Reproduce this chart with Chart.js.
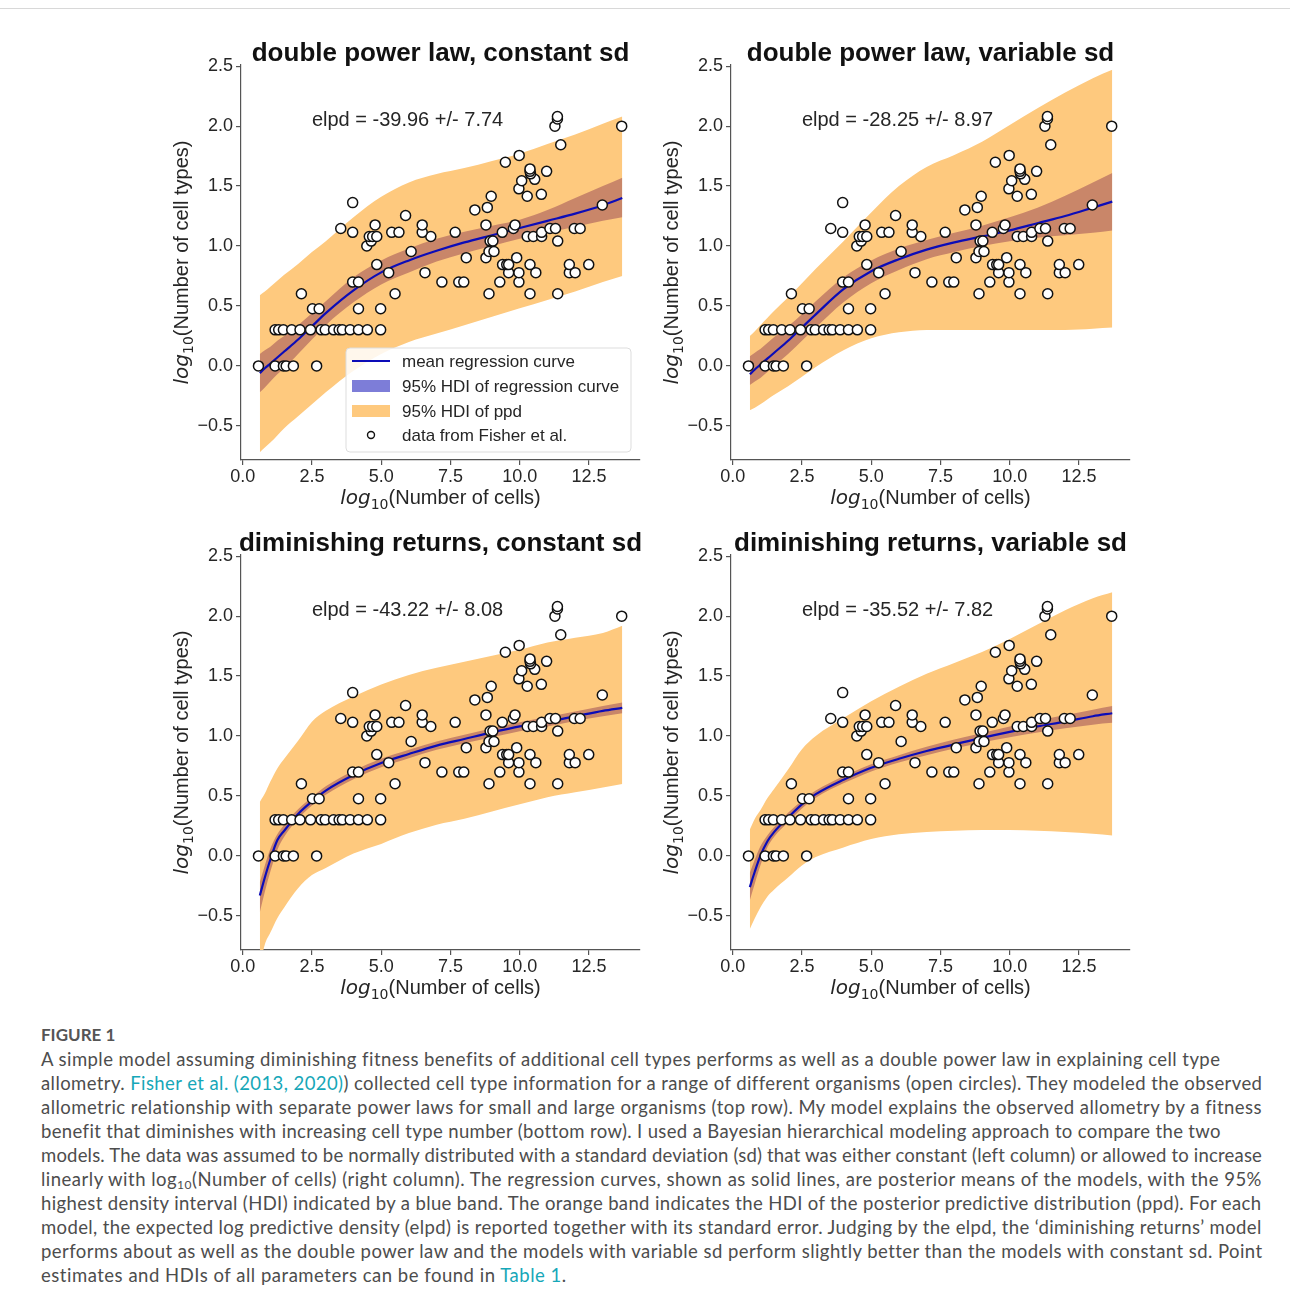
<!DOCTYPE html>
<html>
<head>
<meta charset="utf-8">
<script src="https://cdn.jsdelivr.net/npm/chart.js@4.4.1/dist/chart.umd.min.js"></script>
<style>
  body { margin: 0; background: #fff; width: 1290px; height: 1304px; position: relative; overflow: hidden; }
  #topline { position: absolute; left: 0; top: 8px; width: 1290px; height: 1px; background: #d8d8d8; }
  .panel { position: absolute; }
  #caption { position: absolute; left: 41px; top: 1023px; font-family: "Lato", "Open Sans", sans-serif; font-size: 18.5px; line-height: 24px; color: #4d4d4d; }
  #caption .head { font-weight: 700; color: #555; font-size: 17px; }
  #caption .cl { display: inline-block; white-space: nowrap; }
  #caption a { color: #16a7b8; text-decoration: none; }
  #caption sub { font-size: 12px; line-height: 0; vertical-align: -3px; }
</style>
</head>
<body>
<div id="topline"></div>
<canvas id="c0" class="panel" width="490" height="480" style="left:160px;top:30px"></canvas>
<canvas id="c1" class="panel" width="490" height="480" style="left:650px;top:30px"></canvas>
<canvas id="c2" class="panel" width="490" height="480" style="left:160px;top:520px"></canvas>
<canvas id="c3" class="panel" width="490" height="480" style="left:650px;top:520px"></canvas>

<div id="caption">
  <div class="head">FIGURE 1</div>
  <div><span class="cl" data-w="1179">A simple model assuming diminishing fitness benefits of additional cell types performs as well as a double power law in explaining cell type</span></div>
  <div><span class="cl" data-w="1221">allometry. <a>Fisher et al. (2013, 2020)</a>) collected cell type information for a range of different organisms (open circles). They modeled the observed</span></div>
  <div><span class="cl" data-w="1221">allometric relationship with separate power laws for small and large organisms (top row). My model explains the observed allometry by a fitness</span></div>
  <div><span class="cl" data-w="1179">benefit that diminishes with increasing cell type number (bottom row). I used a Bayesian hierarchical modeling approach to compare the two</span></div>
  <div><span class="cl" data-w="1221">models. The data was assumed to be normally distributed with a standard deviation (sd) that was either constant (left column) or allowed to increase</span></div>
  <div><span class="cl" data-w="1221">linearly with log<sub>10</sub>(Number of cells) (right column). The regression curves, shown as solid lines, are posterior means of the models, with the 95%</span></div>
  <div><span class="cl" data-w="1221">highest density interval (HDI) indicated by a blue band. The orange band indicates the HDI of the posterior predictive distribution (ppd). For each</span></div>
  <div><span class="cl" data-w="1221">model, the expected log predictive density (elpd) is reported together with its standard error. Judging by the elpd, the ‘diminishing returns’ model</span></div>
  <div><span class="cl" data-w="1221">performs about as well as the double power law and the models with variable sd perform slightly better than the models with constant sd. Point</span></div>
  <div><span class="cl" data-w="526">estimates and HDIs of all parameters can be found in <a>Table 1</a>.</span></div>
</div>

<script>
// log10(cells), log10(cell types) from Fisher et al., one row per cell-type level
const FISHER = [
  [0.57, 0], [1.17, 0], [1.47, 0], [1.57, 0], [1.83, 0], [2.67, 0],
  [1.17, 0.301], [1.3, 0.301], [1.47, 0.301], [1.77, 0.301], [2.07, 0.301], [2.45, 0.301], [2.83, 0.301],
  [2.98, 0.301], [3.28, 0.301], [3.48, 0.301], [3.6, 0.301], [3.88, 0.301], [4.18, 0.301], [4.5, 0.301], [4.98, 0.301],
  [2.52, 0.477], [2.76, 0.477], [4.18, 0.477], [4.98, 0.477],
  [2.12, 0.602], [5.5, 0.602], [8.89, 0.602], [10.37, 0.602], [11.37, 0.602],
  [3.97, 0.699], [4.18, 0.699], [7.19, 0.699], [7.8, 0.699], [7.98, 0.699], [9.28, 0.699], [9.97, 0.699],
  [5.27, 0.778], [6.58, 0.778], [9.6, 0.778], [9.97, 0.778], [10.58, 0.778], [11.79, 0.778], [12.0, 0.778],
  [4.84, 0.845], [9.38, 0.845], [9.53, 0.845], [9.6, 0.845], [10.37, 0.845], [11.79, 0.845], [12.49, 0.845],
  [8.07, 0.903], [8.78, 0.903], [9.89, 0.903],
  [6.08, 0.954], [8.89, 0.954], [9.07, 0.954],
  [4.48, 1.0],
  [4.64, 1.041], [8.93, 1.041], [9.03, 1.041], [11.37, 1.041],
  [4.57, 1.079], [4.69, 1.079], [4.84, 1.079], [6.79, 1.079], [10.27, 1.079], [10.49, 1.079], [10.79, 1.079],
  [3.97, 1.114], [5.38, 1.114], [5.64, 1.114], [6.48, 1.114], [7.67, 1.114], [9.37, 1.114], [10.79, 1.114],
  [3.54, 1.146], [9.77, 1.146], [11.09, 1.146], [11.29, 1.146], [11.97, 1.146], [12.18, 1.146],
  [4.78, 1.176], [6.48, 1.176], [8.78, 1.176], [9.83, 1.176],
  [5.88, 1.255], [8.38, 1.301], [8.83, 1.322], [12.98, 1.342], [3.97, 1.362],
  [8.97, 1.415], [10.27, 1.415], [10.78, 1.431], [9.97, 1.477], [10.07, 1.544], [10.54, 1.556],
  [10.39, 1.602], [10.37, 1.623], [10.97, 1.623], [10.37, 1.643], [9.48, 1.699], [9.98, 1.756],
  [11.48, 1.845], [11.27, 2.0], [13.68, 2.0], [11.36, 2.06], [11.36, 2.08]
];

// x positions at which the curves and bands were read
const X_GRID = [0.62, 0.8, 1.0, 1.25, 1.5, 2, 2.5, 3, 4, 5, 6, 7, 8, 9, 10, 11, 12, 13, 13.7];

const DPL_CONST_MEAN = [-0.06, -0.02, 0.02, 0.07, 0.12, 0.22, 0.33, 0.44, 0.63, 0.78, 0.88, 0.96, 1.03, 1.09, 1.15, 1.21, 1.27, 1.34, 1.40];
const DPL_CONST_HDI_HI = [0.10, 0.13, 0.16, 0.21, 0.25, 0.34, 0.44, 0.54, 0.74, 0.88, 0.98, 1.06, 1.12, 1.17, 1.22, 1.30, 1.40, 1.50, 1.57];
const DPL_CONST_HDI_LO = [-0.22, -0.18, -0.13, -0.07, -0.02, 0.10, 0.22, 0.34, 0.53, 0.68, 0.78, 0.87, 0.94, 1.00, 1.06, 1.11, 1.16, 1.21, 1.24];
const DPL_CONST_PPD_HI = [0.59, 0.62, 0.66, 0.71, 0.76, 0.85, 0.95, 1.04, 1.24, 1.41, 1.53, 1.60, 1.65, 1.71, 1.77, 1.85, 1.93, 2.02, 2.08];
const DPL_CONST_PPD_LO = [-0.72, -0.68, -0.64, -0.58, -0.52, -0.42, -0.32, -0.22, -0.04, 0.10, 0.20, 0.27, 0.34, 0.41, 0.48, 0.55, 0.62, 0.70, 0.75];

const DPL_VAR_MEAN = [-0.07, -0.03, 0.01, 0.06, 0.11, 0.21, 0.32, 0.43, 0.64, 0.79, 0.89, 0.97, 1.03, 1.08, 1.13, 1.19, 1.25, 1.32, 1.37];
const DPL_VAR_HDI_HI = [0.08, 0.11, 0.14, 0.19, 0.24, 0.33, 0.43, 0.54, 0.74, 0.88, 0.98, 1.05, 1.11, 1.17, 1.24, 1.32, 1.42, 1.53, 1.61];
const DPL_VAR_HDI_LO = [-0.16, -0.13, -0.10, -0.05, 0.00, 0.10, 0.21, 0.32, 0.53, 0.69, 0.80, 0.89, 0.95, 1.00, 1.04, 1.07, 1.09, 1.11, 1.13];
const DPL_VAR_PPD_HI = [0.25, 0.29, 0.34, 0.40, 0.46, 0.57, 0.69, 0.81, 1.04, 1.28, 1.50, 1.66, 1.76, 1.87, 2.01, 2.15, 2.28, 2.40, 2.47];
const DPL_VAR_PPD_LO = [-0.37, -0.35, -0.32, -0.28, -0.24, -0.17, -0.09, -0.01, 0.13, 0.23, 0.28, 0.30, 0.30, 0.30, 0.30, 0.30, 0.30, 0.31, 0.32];

const DR_CONST_MEAN = [-0.33, -0.18, -0.03, 0.13, 0.21, 0.35, 0.455, 0.545, 0.675, 0.775, 0.85, 0.92, 0.975, 1.03, 1.08, 1.12, 1.165, 1.21, 1.235];
const DR_CONST_HDI_HI = [-0.22, -0.08, 0.06, 0.18, 0.26, 0.39, 0.49, 0.58, 0.71, 0.81, 0.885, 0.955, 1.01, 1.065, 1.115, 1.16, 1.205, 1.25, 1.28];
const DR_CONST_HDI_LO = [-0.47, -0.30, -0.13, 0.05, 0.16, 0.31, 0.42, 0.51, 0.64, 0.74, 0.815, 0.885, 0.94, 0.99, 1.04, 1.08, 1.125, 1.165, 1.19];
const DR_CONST_PPD_HI = [0.45, 0.52, 0.62, 0.73, 0.81, 0.96, 1.12, 1.21, 1.33, 1.43, 1.51, 1.57, 1.62, 1.67, 1.72, 1.78, 1.82, 1.86, 1.92];
const DR_CONST_PPD_LO = [-0.92, -0.74, -0.64, -0.52, -0.43, -0.27, -0.16, -0.10, 0.02, 0.10, 0.19, 0.26, 0.31, 0.37, 0.43, 0.49, 0.53, 0.57, 0.60];

const DR_VAR_MEAN = [-0.26, -0.13, 0.0, 0.12, 0.20, 0.32, 0.43, 0.515, 0.635, 0.735, 0.81, 0.875, 0.93, 0.985, 1.035, 1.08, 1.12, 1.165, 1.19];
const DR_VAR_HDI_HI = [-0.14, -0.03, 0.08, 0.17, 0.24, 0.36, 0.46, 0.545, 0.665, 0.765, 0.84, 0.91, 0.97, 1.025, 1.08, 1.13, 1.175, 1.22, 1.25];
const DR_VAR_HDI_LO = [-0.37, -0.23, -0.08, 0.07, 0.16, 0.28, 0.395, 0.485, 0.605, 0.705, 0.78, 0.84, 0.895, 0.945, 0.99, 1.03, 1.065, 1.095, 1.11];
const DR_VAR_PPD_HI = [0.22, 0.31, 0.38, 0.48, 0.56, 0.72, 0.89, 1.00, 1.15, 1.29, 1.41, 1.52, 1.61, 1.70, 1.81, 1.93, 2.05, 2.15, 2.20];
const DR_VAR_PPD_LO = [-0.61, -0.52, -0.43, -0.34, -0.28, -0.18, -0.08, -0.01, 0.07, 0.14, 0.18, 0.20, 0.21, 0.215, 0.215, 0.21, 0.20, 0.185, 0.17];

const TITLES = ["double power law, constant sd", "double power law, variable sd",
                "diminishing returns, constant sd", "diminishing returns, variable sd"];
const ELPD = ["elpd = -39.96 +/- 7.74", "elpd = -28.25 +/- 8.97",
              "elpd = -43.22 +/- 8.08", "elpd = -35.52 +/- 7.82"];
const LEGEND_LABELS = ["mean regression curve", "95% HDI of regression curve", "95% HDI of ppd", "data from Fisher et al."];
const X_TICKS = [0, 2.5, 5, 7.5, 10, 12.5];
const Y_TICKS = [-0.5, 0, 0.5, 1, 1.5, 2, 2.5];

const PANELS = [
  [DPL_CONST_MEAN, DPL_CONST_HDI_HI, DPL_CONST_HDI_LO, DPL_CONST_PPD_HI, DPL_CONST_PPD_LO],
  [DPL_VAR_MEAN, DPL_VAR_HDI_HI, DPL_VAR_HDI_LO, DPL_VAR_PPD_HI, DPL_VAR_PPD_LO],
  [DR_CONST_MEAN, DR_CONST_HDI_HI, DR_CONST_HDI_LO, DR_CONST_PPD_HI, DR_CONST_PPD_LO],
  [DR_VAR_MEAN, DR_VAR_HDI_HI, DR_VAR_HDI_LO, DR_VAR_PPD_HI, DR_VAR_PPD_LO],
];

const SANS = '"Liberation Sans", Arial, sans-serif';
const ORANGE = "#fec97e";
const BROWN = "#c98669";
const LINE_BLUE = "#0c0cb8";
const PATCH_BLUE = "#7d7dd8";
const INK = "#262626";
const SPINE = "#555555";

Chart.defaults.font.family = SANS;
Chart.defaults.color = INK;

const onGrid = (arr) => X_GRID.map((x, i) => ({ x: x, y: arr[i] }));
const fmt = (v) => v.toFixed(1).replace("-", "\u2212");

// "log" oblique + subscript 10 + rest, centred at (cx, cy)
const drawLogLabel = (ctx, rest, cx, cy, angle) => {
  const fLog = 'oblique 20px "DejaVu Sans"';
  const fSub = '14px "DejaVu Sans"';
  const fRest = "20px " + SANS;
  ctx.save();
  ctx.translate(cx, cy);
  ctx.rotate(angle);
  ctx.font = fLog; const w1 = ctx.measureText("log").width;
  ctx.font = fSub; const w2 = ctx.measureText("10").width;
  ctx.font = fRest; const w3 = ctx.measureText(rest).width;
  let x = -(w1 + w2 + w3) / 2;
  ctx.textAlign = "left";
  ctx.textBaseline = "alphabetic";
  ctx.fillStyle = INK;
  ctx.font = fLog; ctx.fillText("log", x, 0); x += w1;
  ctx.font = fSub; ctx.fillText("10", x, 5); x += w2;
  ctx.font = fRest; ctx.fillText(rest, x, 0);
  ctx.restore();
};

const drawLegend = (ctx, a) => {
  const left = a.right - 294, top = a.bottom - 112, w = 285, h = 104;
  ctx.save();
  ctx.beginPath();
  ctx.roundRect(left, top, w, h, 4);
  ctx.fillStyle = "rgba(255,255,255,0.85)";
  ctx.fill();
  ctx.strokeStyle = "#dddddd";
  ctx.lineWidth = 1;
  ctx.stroke();
  const rows = [13, 38, 63, 87];
  ctx.font = "17px " + SANS;
  ctx.textBaseline = "middle";
  ctx.fillStyle = INK;
  LEGEND_LABELS.forEach((t, i) => ctx.fillText(t, left + 56, top + rows[i] + 1));
  ctx.strokeStyle = LINE_BLUE; ctx.lineWidth = 2;
  ctx.beginPath(); ctx.moveTo(left + 6, top + rows[0]); ctx.lineTo(left + 44, top + rows[0]); ctx.stroke();
  ctx.fillStyle = PATCH_BLUE; ctx.fillRect(left + 6, top + rows[1] - 6, 38, 12);
  ctx.fillStyle = ORANGE; ctx.fillRect(left + 6, top + rows[2] - 6, 38, 12);
  ctx.beginPath(); ctx.arc(left + 25, top + rows[3], 3.5, 0, Math.PI * 2);
  ctx.fillStyle = "#fff"; ctx.fill();
  ctx.strokeStyle = "#111"; ctx.lineWidth = 1.4; ctx.stroke();
  ctx.restore();
};

const overlay = {
  id: "overlay",
  afterDraw(chart, args, opts) {
    const { ctx, chartArea: a, scales } = chart;
    const cx = (a.left + a.right) / 2;
    ctx.save();
    ctx.fillStyle = "#111";
    ctx.font = "bold 26px " + SANS;
    ctx.textAlign = "center";
    ctx.textBaseline = "alphabetic";
    ctx.fillText(opts.title, cx, 31);
    ctx.fillStyle = INK;
    ctx.font = "20px " + SANS;
    ctx.textAlign = "left";
    ctx.fillText(opts.elpd, scales.x.getPixelForValue(2.5), scales.y.getPixelForValue(2.0));
    ctx.restore();
    drawLogLabel(ctx, "(Number of cells)", cx, 474, 0);
    drawLogLabel(ctx, "(Number of cell types)", 28, (a.top + a.bottom) / 2, -Math.PI / 2);
    if (opts.legend) drawLegend(ctx, a);
  },
};

const band = (arr, color, fill, order) => ({
  type: "line",
  data: onGrid(arr),
  borderWidth: 0,
  pointRadius: 0,
  backgroundColor: color,
  fill: fill,
  cubicInterpolationMode: "monotone",
  order: order,
});

PANELS.forEach((p, k) => {
  const [mean, hdiHi, hdiLo, ppdHi, ppdLo] = p;
  new Chart(document.getElementById("c" + k), {
    type: "line",
    data: {
      datasets: [
        {
          data: FISHER.map((d) => ({ x: d[0], y: d[1] })),
          showLine: false,
          pointRadius: 5,
          pointBorderWidth: 1.5,
          pointBackgroundColor: "#ffffff",
          pointBorderColor: "#111111",
          order: 0,
        },
        {
          data: onGrid(mean),
          borderColor: LINE_BLUE,
          borderWidth: 2.2,
          pointRadius: 0,
          fill: false,
          cubicInterpolationMode: "monotone",
          order: 1,
        },
        band(hdiHi, BROWN, "+1", 2),
        band(hdiLo, BROWN, false, 2),
        band(ppdHi, ORANGE, "+1", 3),
        band(ppdLo, ORANGE, false, 3),
      ],
    },
    options: {
      responsive: false,
      animation: false,
      events: [],
      layout: { padding: { left: 0, top: 35, right: 10, bottom: 0 } },
      plugins: {
        legend: { display: false },
        tooltip: { enabled: false },
        overlay: { title: TITLES[k], elpd: ELPD[k], legend: k === 0 },
      },
      scales: {
        x: {
          type: "linear",
          min: -0.06,
          max: 14.34,
          afterBuildTicks: (s) => { s.ticks = X_TICKS.map((v) => ({ value: v })); },
          afterFit: (s) => { s.height = 50; },
          ticks: { callback: (v) => fmt(v), font: { size: 18 }, color: INK, padding: 1, maxRotation: 0, autoSkip: false },
          grid: { drawOnChartArea: false, drawTicks: true, tickLength: 5, color: SPINE, lineWidth: 1.2 },
          border: { color: SPINE, width: 1.2 },
        },
        y: {
          type: "linear",
          min: -0.785,
          max: 2.51,
          afterBuildTicks: (s) => { s.ticks = Y_TICKS.map((v) => ({ value: v })); },
          afterFit: (s) => { s.width = 81; },
          ticks: { callback: (v) => fmt(v), font: { size: 18 }, color: INK, padding: 3, autoSkip: false },
          grid: { drawOnChartArea: false, drawTicks: true, tickLength: 5, color: SPINE, lineWidth: 1.2 },
          border: { color: SPINE, width: 1.2 },
        },
      },
    },
    plugins: [overlay],
  });
});

// fit each caption line to the width it has in the figure
document.querySelectorAll("#caption .cl").forEach((el) => {
  const target = +el.dataset.w;
  const natural = el.getBoundingClientRect().width;
  const n = el.textContent.length;
  el.style.letterSpacing = ((target - natural) / n).toFixed(3) + "px";
});
</script>
</body>
</html>
